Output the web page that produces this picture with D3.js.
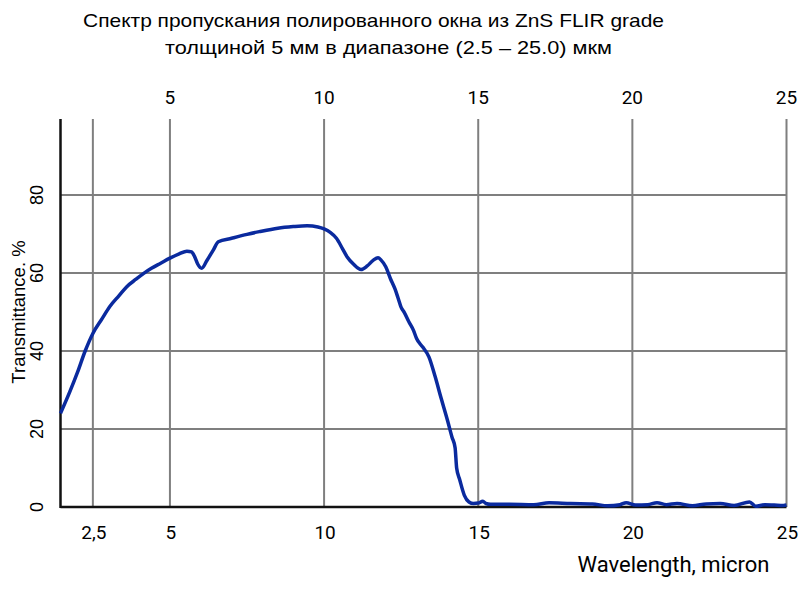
<!DOCTYPE html>
<html>
<head>
<meta charset="utf-8">
<script src="https://cdn.jsdelivr.net/npm/d3@7"></script>
<style>
  body { margin: 0; background: #fff; }
  text { font-family: "Liberation Sans", Arial, sans-serif; fill: #000; }
  text.num { font-family: Roboto, "Liberation Sans", sans-serif; }
</style>
</head>
<body>
<script>
// Chart size
var width = 800,
    height = 600;

// Spectrum data (wavelength in micron, transmittance in %)
var wavelength = [1.45, 1.75, 2.0, 2.25, 2.5, 2.8, 3.05, 3.35, 3.6, 3.9, 4.15, 4.4, 4.7, 5.0, 5.3, 5.55, 5.7, 5.8, 5.9, 6.03,
    6.2, 6.4, 6.57, 7.0, 7.5, 7.9, 8.5, 9.0, 9.45, 9.8, 10.0, 10.2, 10.4, 10.6, 10.75, 10.95, 11.2, 11.4, 11.6, 11.75,
    11.85, 12.0, 12.15, 12.3, 12.4, 12.5, 12.6, 12.75, 12.9, 13.0, 13.2, 13.4, 13.6, 13.8, 14.0, 14.15, 14.25, 14.3, 14.4, 14.55,
    14.7, 14.85, 15.0, 15.15, 15.25, 15.4, 16.0, 16.8, 17.3, 18.0, 18.7, 19.2, 19.6, 19.8, 20.1, 20.5, 20.8, 21.1, 21.45, 21.95,
    22.4, 22.85, 23.3, 23.8, 24.0, 24.3, 24.6, 24.9, 25.0];
var transmittance = [24, 29.5, 34.5, 40, 44.5, 48.3, 51.4, 54.2, 56.5, 58.4, 59.9, 61.2, 62.5, 63.8, 64.9, 65.6, 65.4, 64.2, 62.3, 61.2,
    63.2, 65.8, 68.0, 68.9, 69.9, 70.6, 71.5, 71.9, 72.1, 71.8, 71.3, 70.4, 68.9, 66.2, 64.1, 62.3, 60.9, 61.8, 63.3, 63.9,
    63.3, 61.6, 58.6, 55.9, 53.6, 51.2, 49.9, 47.5, 45.3, 43.2, 41.0, 38.5, 33.5, 27.8, 22.3, 17.9, 15.2, 10.0, 7.0, 3.0,
    1.3, 0.9, 1.0, 1.5, 0.9, 0.7, 0.7, 0.6, 1.1, 0.9, 0.8, 0.3, 0.6, 1.1, 0.5, 0.6, 1.1, 0.6, 0.9, 0.3,
    0.8, 0.9, 0.4, 1.3, 0.2, 0.6, 0.5, 0.4, 0.5];

// Tick labels
var topTicks = [5, 10, 15, 20, 25];
var bottomTicks = [2.5, 5, 10, 15, 20, 25];
var yTicks = [0, 20, 40, 60, 80];

var titleLines = ["Спектр пропускания полированного окна из ZnS FLIR grade",
                  "толщиной 5 мм в диапазоне (2.5 – 25.0) мкм"];

var points = wavelength.map(function(w, i) { return [w, transmittance[i]]; });

// Scales
var x = d3.scaleLinear().domain([1.45, 25]).range([60.5, 786.5]);
var y = d3.scaleLinear().domain([0, 100]).range([507, 117]);

var svg = d3.select("body").append("svg")
    .attr("width", width)
    .attr("height", height);

// Title
svg.selectAll(".title")
    .data(titleLines)
    .enter()
    .append("text")
    .attr("class", "title")
    .attr("x", function(d, i) { return i == 0 ? 373.5 : 388.5; })
    .attr("y", function(d, i) { return 27 + i * 27; })
    .attr("text-anchor", "middle")
    .attr("font-size", 19)
    .attr("textLength", function(d, i) { return i == 0 ? 581 : 447; })
    .attr("lengthAdjust", "spacingAndGlyphs")
    .text(function(d) { return d; });

// Grid lines
var grid = svg.append("g").attr("stroke", "#7f7f7f").attr("stroke-width", 2);

grid.selectAll(".vgrid")
    .data(bottomTicks)
    .enter()
    .append("line")
    .attr("x1", function(d) { return x(d); })
    .attr("x2", function(d) { return x(d); })
    .attr("y1", y(99.5))
    .attr("y2", y(0));

grid.selectAll(".hgrid")
    .data(yTicks.slice(1))
    .enter()
    .append("line")
    .attr("x1", x.range()[0])
    .attr("x2", x(25))
    .attr("y1", function(d) { return y(d); })
    .attr("y2", function(d) { return y(d); });

// Axes lines
svg.append("line")
    .attr("x1", x.range()[0]).attr("x2", x.range()[0])
    .attr("y1", y(99.5)).attr("y2", y(0) + 1)
    .attr("stroke", "#111").attr("stroke-width", 2.5);
svg.append("line")
    .attr("x1", x.range()[0]).attr("x2", x(25))
    .attr("y1", y(0)).attr("y2", y(0))
    .attr("stroke", "#111").attr("stroke-width", 2.5);

// Top tick labels
svg.selectAll(".ttick")
    .data(topTicks)
    .enter()
    .append("text")
    .attr("class", "num")
    .attr("x", function(d) { return x(d); })
    .attr("y", 104)
    .attr("text-anchor", "middle")
    .attr("font-size", 19)
    .text(function(d) { return d; });

// Bottom tick labels
svg.selectAll(".btick")
    .data(bottomTicks)
    .enter()
    .append("text")
    .attr("class", "num")
    .attr("x", function(d) { return x(d) + 1; })
    .attr("y", 539)
    .attr("text-anchor", "middle")
    .attr("font-size", 19)
    .text(function(d) { return String(d).replace(".", ","); });

// Y tick labels (rotated)
svg.selectAll(".ytick")
    .data(yTicks)
    .enter()
    .append("text")
    .attr("transform", function(d) { return "translate(43," + y(d) + ") rotate(-90)"; })
    .attr("text-anchor", "middle")
    .attr("font-size", 18)
    .text(function(d) { return d; });

// Axis titles
svg.append("text")
    .attr("transform", "translate(25,312) rotate(-90)")
    .attr("text-anchor", "middle")
    .attr("font-size", 18.5)
    .text("Transmittance. %");

svg.append("text")
    .attr("class", "num")
    .attr("x", 673.5)
    .attr("y", 572)
    .attr("text-anchor", "middle")
    .attr("font-size", 22)
    .text("Wavelength, micron");

// Spectrum curve
var line = d3.line()
    .x(function(d) { return x(d[0]); })
    .y(function(d) { return y(d[1]); })
    .curve(d3.curveMonotoneX);

svg.append("path")
    .datum(points)
    .attr("fill", "none")
    .attr("stroke", "#0a2a9e")
    .attr("stroke-width", 3.5)
    .attr("stroke-linejoin", "round")
    .attr("d", line);
</script>
</body>
</html>
